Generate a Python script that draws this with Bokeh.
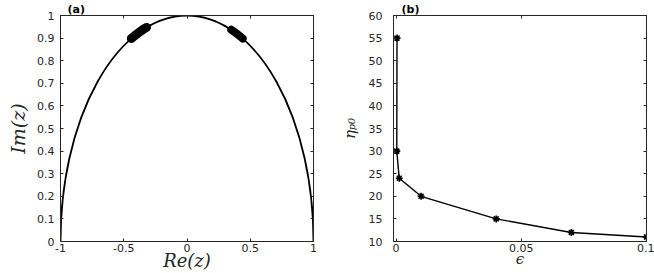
from bokeh.plotting import figure
from bokeh.models import Range1d, LinearAxis, FixedTicker
from bokeh.layouts import row
from bokeh.embed import file_html
from bokeh.resources import INLINE

# ---------------- data: panel (a) ----------------
arc_center_x = [0.0]
arc_center_y = [0.0]
arc_width = [2.0]
arc_height = [2.0]
cluster_left_x = [-0.44, -0.41, -0.38, -0.35, -0.32]
cluster_left_y = [0.898, 0.912, 0.925, 0.937, 0.947]
cluster_right_x = [0.35, 0.375, 0.40, 0.42, 0.44]
cluster_right_y = [0.937, 0.927, 0.917, 0.908, 0.898]
a_xticks = [-1, -0.5, 0, 0.5, 1]
a_xlabels = ["-1", "-0.5", "0", "0.5", "1"]
a_yticks = [0, 0.1, 0.2, 0.3, 0.4, 0.5, 0.6, 0.7, 0.8, 0.9, 1]
a_ylabels = ["0", "0.1", "0.2", "0.3", "0.4", "0.5", "0.6", "0.7", "0.8", "0.9", "1"]

# ---------------- data: panel (b) ----------------
eps = [0.0004, 0.0003, 0.0013, 0.01, 0.04, 0.07, 0.1]
eta = [55, 30, 24, 20, 15, 12, 11]
b_xticks = [0, 0.05, 0.1]
b_xlabels = ["0", "0.05", "0.1"]
b_yticks = [10, 15, 20, 25, 30, 35, 40, 45, 50, 55, 60]
b_ylabels = ["10", "15", "20", "25", "30", "35", "40", "45", "50", "55", "60"]

AX = "#262626"
TICK_FONT = "DejaVu Sans"
LABEL_FONT = "DejaVu Serif"


def style(p, xticks, xlabels, yticks, ylabels, xlabel, ylabel, xl_size, yl_size,
          title_offset, ytick_standoff, ylabel_standoff):
    p.title.text_font = TICK_FONT
    p.title.text_font_style = "bold"
    p.title.text_font_size = "11px"
    p.title.text_color = "black"
    p.title.align = "left"
    p.title.offset = title_offset
    p.title.standoff = 0
    p.xaxis.ticker = FixedTicker(ticks=xticks)
    p.yaxis.ticker = FixedTicker(ticks=yticks)
    p.xaxis.major_label_overrides = {t: s for t, s in zip(xticks, xlabels)}
    p.yaxis.major_label_overrides = {t: s for t, s in zip(yticks, ylabels)}
    for ax in (p.xaxis[0], p.yaxis[0]):
        ax.major_tick_in = 3
        ax.major_tick_out = 0
        ax.minor_tick_line_color = None
        ax.axis_line_color = AX
        ax.major_tick_line_color = AX
        ax.major_label_text_color = AX
        ax.major_label_text_font = TICK_FONT
        ax.major_label_text_font_size = "11px"
        ax.axis_label_text_color = AX
        ax.axis_label_text_font = LABEL_FONT
        ax.axis_label_text_font_style = "italic"
    p.xaxis.axis_label = xlabel
    p.yaxis.axis_label = ylabel
    p.xaxis.axis_label_text_font_size = xl_size
    p.yaxis.axis_label_text_font_size = yl_size
    p.xaxis.major_label_standoff = 2
    p.xaxis.axis_label_standoff = -5
    p.yaxis.major_label_standoff = ytick_standoff
    p.yaxis.axis_label_standoff = ylabel_standoff
    # mirrored box axes (ticks only, no labels)
    top = LinearAxis(ticker=FixedTicker(ticks=xticks))
    right = LinearAxis(ticker=FixedTicker(ticks=yticks))
    for ax in (top, right):
        ax.major_tick_in = 3
        ax.major_tick_out = 0
        ax.minor_tick_line_color = None
        ax.axis_line_color = AX
        ax.major_tick_line_color = AX
        ax.major_label_text_color = None
        ax.major_label_text_font_size = "1px"
        ax.major_label_standoff = 0
    p.add_layout(top, "above")
    p.add_layout(right, "right")
    p.grid.visible = False
    p.outline_line_color = AX


# ---------------- panel (a) ----------------
pa = figure(width=330, height=273, output_backend="svg", toolbar_location=None,
            title="(a)", x_range=Range1d(-1, 1), y_range=Range1d(0, 1),
            min_border_left=60, min_border_right=17, min_border_top=0,
            min_border_bottom=28)
pa.ellipse(x=arc_center_x, y=arc_center_y, width=arc_width, height=arc_height,
           fill_color=None, line_color="black", line_width=1.8)
pa.line(cluster_left_x, cluster_left_y, line_color="black", line_width=9, line_cap="round")
pa.line(cluster_right_x, cluster_right_y, line_color="black", line_width=8, line_cap="round")
style(pa, a_xticks, a_xlabels, a_yticks, a_ylabels, "Re(z)", "Im(z)", "18px", "19px",
      7, 6, 5)

# ---------------- panel (b) ----------------
pb = figure(width=324, height=273, output_backend="svg", toolbar_location=None,
            title="(b)", x_range=Range1d(-0.001, 0.1), y_range=Range1d(10, 60),
            min_border_left=63, min_border_right=8, min_border_top=0,
            min_border_bottom=28)
pb.line(eps, eta, line_color="black", line_width=1.4)
pb.scatter(eps, eta, marker="asterisk", size=7, line_color="black", line_width=1.6)
style(pb, b_xticks, b_xlabels, b_yticks, b_ylabels, "\u03f5", "\u03b7\u209a\u2080", "15px", "15px",
      8, 11, 7)

layout = row(pa, pb)
open("out.html", "w").write(file_html(layout, INLINE))
